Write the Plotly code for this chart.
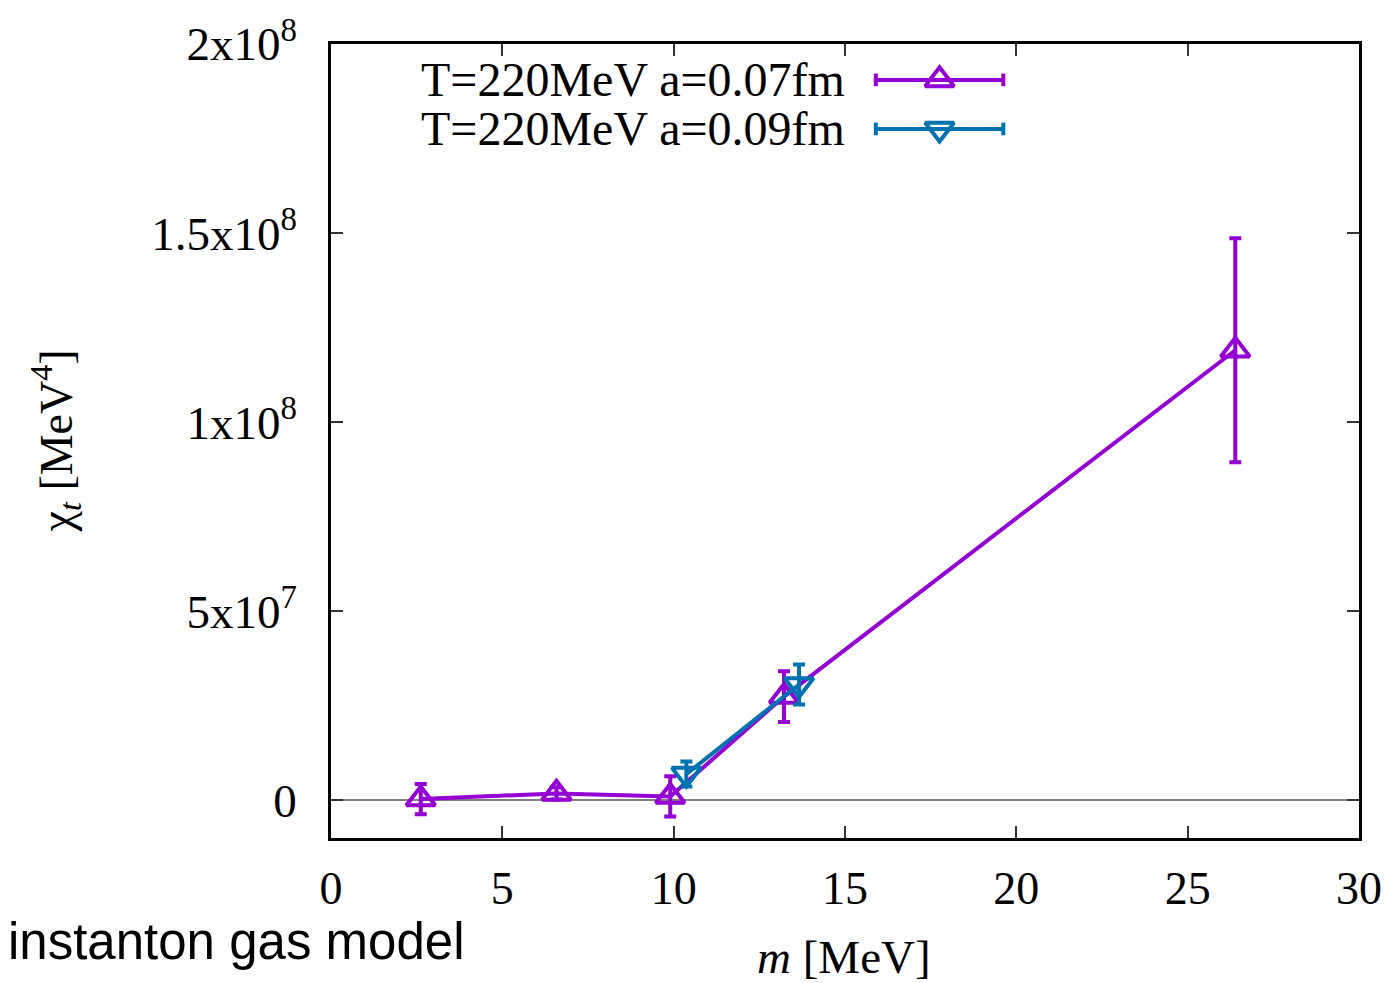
import plotly.graph_objects as go

# ---- data ----
m_a007 = [2.62, 6.58, 9.90, 13.22, 26.39]
chi_a007 = [0.3e6, 1.8e6, 1.0e6, 27.4e6, 119.0e6]
err_a007 = [4.0e6, 1.6e6, 5.3e6, 6.7e6, 29.6e6]

m_a009 = [10.37, 13.66]
chi_a009 = [6.9e6, 30.6e6]
err_a009 = [3.3e6, 5.3e6]

label_a007 = "T=220MeV a=0.07fm"
label_a009 = "T=220MeV a=0.09fm"

ytick_vals = [0, 5e7, 1e8, 1.5e8, 2e8]
ytick_text = ["0", "5x10<sup>7</sup>", "1x10<sup>8</sup>", "1.5x10<sup>8</sup>", "2x10<sup>8</sup>"]
xtick_vals = [0, 5, 10, 15, 20, 25, 30]

PURPLE = "#9400d3"
BLUE = "#0072b2"
SERIF = "Liberation Serif, Times New Roman, serif"
SANS = "Liberation Sans, Arial, sans-serif"
LW = 4

fig = go.Figure()

def add_series(x, y, e, color, symbol):
    fig.add_trace(go.Scatter(
        x=x, y=y, mode="lines+markers",
        line=dict(color=color, width=LW),
        marker=dict(symbol=symbol, size=25, color=color,
                    line=dict(color=color, width=4)),
        error_y=dict(type="data", array=e, visible=True, color=color,
                     thickness=LW, width=6),
        showlegend=False, cliponaxis=False,
    ))

add_series(m_a007, chi_a007, err_a007, PURPLE, "triangle-up-open")
add_series(m_a009, chi_a009, err_a009, BLUE, "triangle-down-open")

# ---- gnuplot-style legend (samples on an overlay axis in [0,1]) ----
leg_rows = [(0.9548, PURPLE, "triangle-up-open", label_a007),
            (0.8930, BLUE, "triangle-down-open", label_a009)]
x0s, x1s, xm = 0.530, 0.654, 0.592
for yy, col, sym, lab in leg_rows:
    fig.add_trace(go.Scatter(
        x=[x0s, x1s], y=[yy, yy], mode="lines", line=dict(color=col, width=LW),
        xaxis="x2", yaxis="y2", showlegend=False, hoverinfo="skip"))
    fig.add_trace(go.Scatter(
        x=[xm], y=[yy], mode="markers",
        marker=dict(symbol=sym, size=25, color=col,
                    line=dict(color=col, width=4)),
        xaxis="x2", yaxis="y2", showlegend=False, hoverinfo="skip"))
    for xc in (x0s, x1s):
        fig.add_shape(type="line", xref="x2", yref="y2", x0=xc, x1=xc,
                      y0=yy - 0.008, y1=yy + 0.008, line=dict(color=col, width=LW))
    fig.add_annotation(x=0.502, y=yy, xref="paper", yref="paper", text=lab,
                       showarrow=False, xanchor="right", yanchor="middle",
                       font=dict(family=SERIF, size=48, color="black"))

fig.update_layout(
    width=1394, height=983,
    margin=dict(l=331, r=33, t=42, b=145),
    plot_bgcolor="white", paper_bgcolor="white",
    font=dict(family=SERIF, size=46, color="black"),
    xaxis=dict(range=[0, 30], tickvals=xtick_vals, ticks="inside", ticklen=12,
               tickwidth=1.5, tickcolor="#333333", showline=True, linecolor="black",
               linewidth=2.5, mirror="ticks", showgrid=False, zeroline=False,
               ticklabelstandoff=8, tickfont=dict(family=SERIF, size=46)),
    yaxis=dict(range=[-1e7, 2e8], tickvals=ytick_vals, ticktext=ytick_text,
               ticks="inside", ticklen=12, tickwidth=1.5, tickcolor="#333333",
               showline=True, linecolor="black", linewidth=2.5, mirror="ticks",
               showgrid=False, zeroline=True, zerolinecolor="#808080",
               zerolinewidth=2, ticklabelstandoff=22,
               tickfont=dict(family=SERIF, size=47)),
    xaxis2=dict(overlaying="x", range=[0, 1], visible=False),
    yaxis2=dict(overlaying="y", range=[0, 1], visible=False),
)

# axis titles
fig.add_annotation(x=0.499, y=-0.150, xref="paper", yref="paper",
                   text="<i>m</i> [MeV]", showarrow=False,
                   xanchor="center", yanchor="middle",
                   font=dict(family=SERIF, size=47, color="black"))
fig.add_annotation(x=-0.268, y=0.5, xref="paper", yref="paper",
                   text="χ<sub><i>t</i></sub> [MeV<sup>4</sup>]", showarrow=False,
                   textangle=-90, xanchor="center", yanchor="middle",
                   font=dict(family=SERIF, size=46, color="black"))
fig.add_annotation(x=-0.3165, y=-0.1307, xref="paper", yref="paper",
                   text="instanton gas model", showarrow=False,
                   xanchor="left", yanchor="middle",
                   font=dict(family=SANS, size=51, color="black"))

fig.write_html("out.html")
